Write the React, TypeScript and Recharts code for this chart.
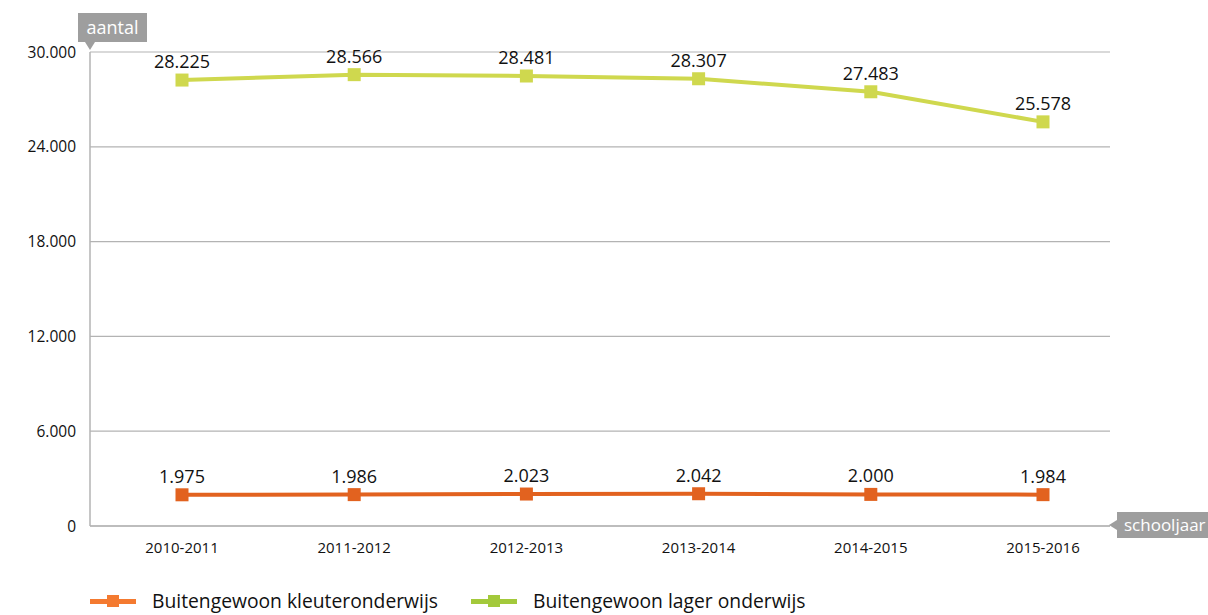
import React from 'react';
import { LineChart, Line, XAxis, YAxis, CartesianGrid, LabelList } from 'recharts';

const schooljaren = ['2010-2011', '2011-2012', '2012-2013', '2013-2014', '2014-2015', '2015-2016'];
const kleuter = [1975, 1986, 2023, 2042, 2000, 1984];
const lager = [28225, 28566, 28481, 28307, 27483, 25578];
const yTicks = [0, 6000, 12000, 18000, 24000, 30000];

const ORANGE = '#e2621f';
const GREEN = '#cfd84e';
const LEGEND_ORANGE = '#f47a30';
const LEGEND_GREEN = '#a3c93b';
const GRID = '#b3b3b3';
const FONT = '"Open Sans", "Noto Sans", sans-serif';

const data = schooljaren.map((jaar, i) => ({ jaar, kleuter: kleuter[i], lager: lager[i] }));

const fmt = (v: number) => (v === 0 ? '0' : v.toLocaleString('de-DE'));

const SquareDot = (color: string) => (props: any) => {
  const { cx, cy, index } = props;
  if (cx == null || cy == null) return null;
  return <rect key={index} x={cx - 6.5} y={cy - 6.5} width={13} height={13} fill={color} />;
};

function LegendItem({ color, label, left }: { color: string; label: string; left: number }) {
  return (
    <div style={{ position: 'absolute', left, top: 589, display: 'flex', alignItems: 'center' }}>
      <div style={{ position: 'relative', width: 46, height: 24 }}>
        <div style={{ position: 'absolute', left: 0, top: 10, width: 46, height: 5, background: color }} />
        <div style={{ position: 'absolute', left: 17, top: 6, width: 12, height: 12, background: color }} />
      </div>
      <span style={{ marginLeft: 16, fontSize: 19.3, lineHeight: '24px', color: '#111', fontFamily: FONT }}>{label}</span>
    </div>
  );
}

export default function App() {
  return (
    <div style={{ position: 'absolute', left: 0, top: 0, width: 1208, height: 615, background: '#fff', overflow: 'hidden', fontFamily: FONT }}>
      <LineChart width={1208} height={615} data={data} margin={{ top: 52, right: 98, bottom: 59, left: 20 }}>
        <CartesianGrid vertical={false} stroke={GRID} strokeWidth={1.2} />
        <XAxis
          dataKey="jaar"
          height={30}
          axisLine={{ stroke: GRID, strokeWidth: 1.5 }}
          tickLine={false}
          tickSize={0}
          tickMargin={16}
          padding={{ left: 92, right: 67 }}
          tick={{ fill: '#111', fontSize: 15, fontFamily: FONT }}
          interval={0}
        />
        <YAxis
          width={70}
          domain={[0, 30000]}
          ticks={yTicks}
          tickFormatter={fmt}
          axisLine={{ stroke: GRID, strokeWidth: 1.5 }}
          tickLine={false}
          tickSize={0}
          tickMargin={14}
          tick={{ fill: '#111', fontSize: 15.5, fontFamily: FONT }}
        />
        <Line
          dataKey="lager"
          stroke={GREEN}
          strokeWidth={4}
          dot={SquareDot(GREEN)}
          activeDot={false}
          isAnimationActive={false}
        >
          <LabelList dataKey="lager" position="top" offset={12} formatter={(v: any) => fmt(Number(v))} style={{ fill: '#111', fontSize: 18, fontFamily: FONT }} />
        </Line>
        <Line
          dataKey="kleuter"
          stroke={ORANGE}
          strokeWidth={4}
          dot={SquareDot(ORANGE)}
          activeDot={false}
          isAnimationActive={false}
        >
          <LabelList dataKey="kleuter" position="top" offset={12} formatter={(v: any) => fmt(Number(v))} style={{ fill: '#111', fontSize: 18, fontFamily: FONT }} />
        </Line>
      </LineChart>

      {/* as-labels */}
      <div style={{ position: 'absolute', left: 78, top: 13, width: 69, height: 29, background: '#9e9e9e', color: '#fff', fontSize: 18, lineHeight: '29px', textAlign: 'center' }}>
        aantal
      </div>
      <div style={{ position: 'absolute', left: 85, top: 42, width: 0, height: 0, borderLeft: '5px solid transparent', borderRight: '5px solid transparent', borderTop: '8px solid #9e9e9e' }} />

      <div style={{ position: 'absolute', left: 1117, top: 512, width: 91, height: 26, background: '#9e9e9e', color: '#fff', fontSize: 17, lineHeight: '26px', paddingLeft: 7, boxSizing: 'border-box', whiteSpace: 'nowrap', overflow: 'hidden' }}>
        schooljaar
      </div>
      <div style={{ position: 'absolute', left: 1109, top: 520, width: 0, height: 0, borderTop: '5px solid transparent', borderBottom: '5px solid transparent', borderRight: '8px solid #9e9e9e' }} />

      <LegendItem color={LEGEND_ORANGE} label="Buitengewoon kleuteronderwijs" left={90} />
      <LegendItem color={LEGEND_GREEN} label="Buitengewoon lager onderwijs" left={471} />
    </div>
  );
}
